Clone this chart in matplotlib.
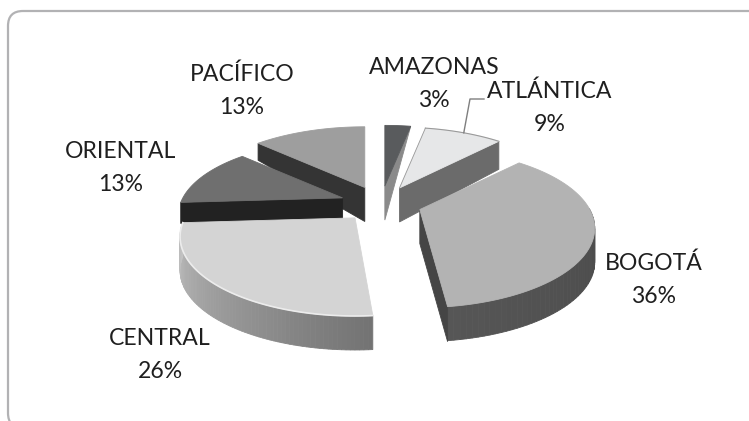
import numpy as np
import matplotlib
matplotlib.use('Agg')
import matplotlib.pyplot as plt
from matplotlib.patches import Polygon, FancyBboxPatch

plt.rcParams['font.family'] = ['Lato', 'DejaVu Sans']

# --- data ---
regiones = ['AMAZONAS', 'ATLÁNTICA', 'BOGOTÁ', 'CENTRAL', 'ORIENTAL', 'PACÍFICO']
porcentajes = [3, 9, 36, 26, 13, 13]

# --- style of each slice ---
color_tapa = ['#595b5d', '#e6e7e8', '#b3b3b3', '#d4d4d4', '#6f6f6f', '#9e9e9e']
color_corte = ['#8a8a8a', '#6b6b6b', '#454545', None, '#222222', '#343434']
color_lado = [None, None, ('#4a4a4a', '#565656'), ('#737373', '#c4c4c4'), None, None]
borde_corte = ['end', 'end', 'end', None, 'start', 'start']
prof_lejos = [0, 28, 35, 0, 21, 17]
escala = [1, 1, 1, 1, 0.94, 1]      # the left slice sits a bit short in the picture
recorte = [0, 0, 0, 2.6, 0, 0]      # degrees, perspective fudge on the front edge
orden = [5, 0, 1, 4, 2, 3]

etiqueta_xy = [(434, 84), (550, 108), (654, 280), (160, 355), (121, 168), (242, 91)]

# --- geometry of the fake 3D view (pixels) ---
cx, cy = 381, 204
rx, ry = 170, 75
persp = 0.2356
explode = 0.24
prof = 34


def punto(ang):
    u, v = np.sin(ang), np.cos(ang)
    d = 1 + persp * v
    return rx * u / d, -ry * v / d


def mezcla(c1, c2, t):
    a = np.array(matplotlib.colors.to_rgb(c1))
    b = np.array(matplotlib.colors.to_rgb(c2))
    return a + (b - a) * t


fig = plt.figure(figsize=(7.49, 4.21), dpi=100)
ax = fig.add_axes([0, 0, 1, 1])
ax.set_xlim(0, 749)
ax.set_ylim(421, 0)
ax.axis('off')

# chart frame, runs past the right and bottom of the picture
ax.add_patch(FancyBboxPatch((23, 26), 760, 387, boxstyle='round,pad=15,rounding_size=15',
                            fc='white', ec='#b2b2b4', lw=1.6, zorder=0))

bordes = np.radians(np.cumsum([0] + porcentajes) * 3.6)

for i in orden:
    a0, a1 = bordes[i], bordes[i + 1]
    medio = (a0 + a1) / 2
    ox = cx + explode * rx * np.sin(medio)
    oy = cy - explode * ry * np.cos(medio)

    angs = np.linspace(a0 + np.radians(recorte[i]), a1, 80)
    arco = np.array([punto(a) for a in angs]) * escala[i] + [ox, oy]

    # outer wall, only the part facing the viewer
    if color_lado[i] is not None:
        vis = np.cos(angs) < 0.04
        idx = np.where(vis)[0]
        for j in idx[:-1]:
            t = (angs[j] - angs[idx[0]]) / (angs[idx[-1]] - angs[idx[0]])
            quad = [arco[j], arco[j + 1], arco[j + 1] + [0, prof], arco[j] + [0, prof]]
            c = mezcla(color_lado[i][0], color_lado[i][1], t)
            ax.add_patch(Polygon(quad, fc=c, ec=c, lw=0.6, zorder=2))

    # cut wall
    if borde_corte[i] is not None:
        p = arco[0] if borde_corte[i] == 'start' else arco[-1]
        muro = [p, (ox, oy), (ox, oy + prof), p + [0, prof_lejos[i]]]
        ax.add_patch(Polygon(muro, fc=color_corte[i], ec=color_corte[i], lw=0.6, zorder=2))

    # top face
    tapa = np.vstack([[ox, oy], arco])
    ax.add_patch(Polygon(tapa, fc=color_tapa[i], ec=color_tapa[i], lw=0.6, zorder=2))

    if regiones[i] == 'CENTRAL':
        ax.plot(arco[:, 0], arco[:, 1], color='#ececec', lw=1.2, zorder=3)
    if regiones[i] == 'ATLÁNTICA':
        ax.plot(arco[:, 0], arco[:, 1], color='#9a9a9a', lw=0.8, zorder=3)
        ax.plot([arco[0, 0], ox], [arco[0, 1], oy], color='#9a9a9a', lw=0.6, zorder=3)

        # leader line for the ATLÁNTICA label
        pt = arco[40]
        ax.plot([pt[0], 470, 484], [pt[1], 99, 99], color='#7f7f7f', lw=1.0, zorder=3)

for nombre, pct, xy in zip(regiones, porcentajes, etiqueta_xy):
    ax.text(xy[0], xy[1], f'{nombre}\n{pct}%', ha='center', va='center',
            fontsize=16.6, color='#1f1f1f', linespacing=1.72, zorder=4)

plt.savefig('out.png', dpi=100)
